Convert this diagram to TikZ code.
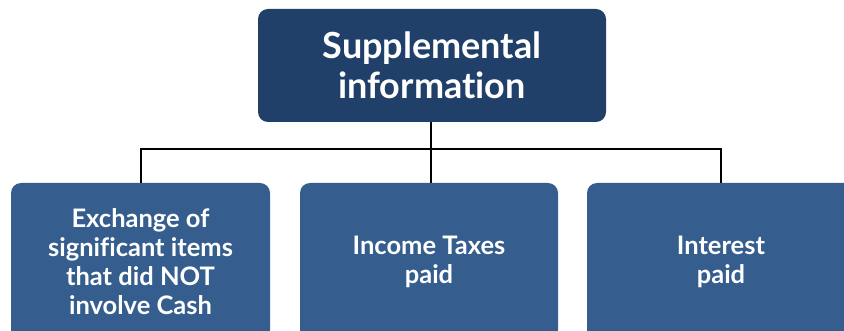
\documentclass[tikz,border=0pt]{standalone}
\usepackage{fontspec}
\setmainfont[Ligatures=NoCommon]{Lato}
\definecolor{topblue}{RGB}{32,64,106}
\definecolor{itemblue}{RGB}{53,94,142}
\begin{document}
\begin{tikzpicture}[x=1pt,y=-1pt,
    headbox/.style={fill=topblue, rounded corners=10pt, text=white, font=\bfseries\fontsize{36}{40}\selectfont,
        minimum width=348pt, minimum height=113pt, align=center, inner sep=0pt},
    itembox/.style={fill=itemblue, rounded corners=10pt, text=white, font=\bfseries\fontsize{25.5}{29}\selectfont,
        minimum height=157pt, align=center, inner sep=0pt},
    link/.style={line width=2pt, black}]
\useasboundingbox (0,0) rectangle (844,331);
\clip (0,0) rectangle (844,331);
\node[headbox] (top) at (432,65.5) {Supplemental\\information};
\node[itembox, minimum width=259pt] (left) at (140.5,261.5) {Exchange of\\significant items\\that did NOT\\involve Cash};
\node[itembox, minimum width=258pt] (mid) at (429,261.5) {Income Taxes\\paid};
\node[itembox, minimum width=268pt] (right) at (721,261.5) {Interest\\paid};
\coordinate (bus) at (430.5,149);
\draw[link] (top.south -| bus) -- (bus);
\foreach \b in {left,right}{
    \draw[link] (\b.north) |- (bus);
}
\draw[link] (bus) -- (bus |- mid.north);
\end{tikzpicture}
\end{document}
